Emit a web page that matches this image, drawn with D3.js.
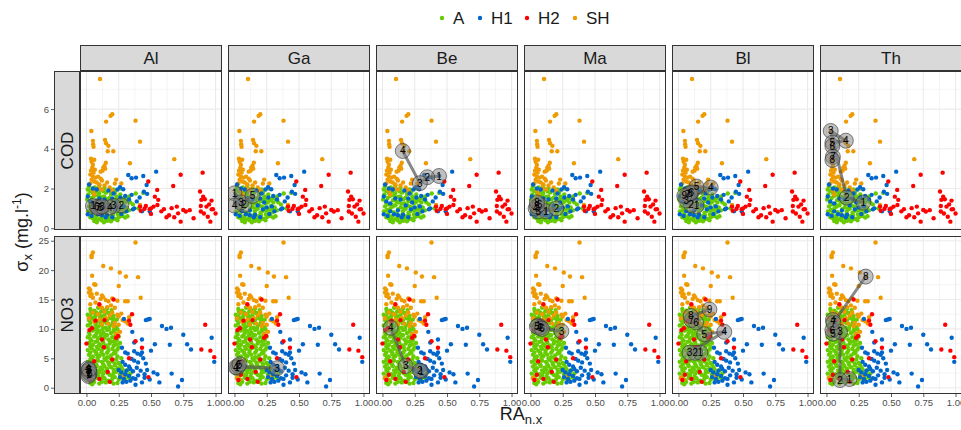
<!DOCTYPE html>
<html><head><meta charset="utf-8">
<script src="https://cdn.jsdelivr.net/npm/d3@7"></script>
<style>body{margin:0;background:#fff}svg{display:block;font-family:"Liberation Sans",Arial,sans-serif}</style>
</head><body><svg id="c" width="961" height="430"></svg>
<script>
const stations = ["Al","Ga","Be","Ma","Bl","Th"];
const variables = ["COD","NO3"];
const groups = ["A","H1","H2","SH"];
const groupColors = ["#66CC00","#0066CC","#FF0000","#EE9A00"];
const xTicks = [0,0.25,0.5,0.75,1];
const xTickLabels = ["0.00","0.25","0.50","0.75","1.00"];
const xMinor = [0.125,0.375,0.625,0.875];
const codTicks = [0,2,4,6];
const codMinor = [1,3,5,7];
const no3Ticks = [0,5,10,15,20,25];
const no3Minor = [2.5,7.5,12.5,17.5,22.5];

// COD background points [RA, sigma]
const cod_A = [[.02,2.1],[.03,1.88],[.015,1.7],[.04,1.52],[.028,1.3],[.02,1.1],[.035,.92],[.042,.7],[.05,.5],[.06,.36],
[.065,2.05],[.072,1.84],[.058,1.62],[.082,1.41],[.07,1.2],[.062,1.0],[.085,.81],[.074,.6],[.092,.44],[.08,.3],
[.1,2.15],[.112,1.95],[.098,1.76],[.12,1.57],[.108,1.34],[.1,1.16],[.122,.96],[.11,.74],[.13,.56],[.118,.4],
[.14,2.02],[.152,1.8],[.138,1.6],[.162,1.46],[.148,1.24],[.142,1.06],[.158,.86],[.15,.66],[.172,.5],[.16,.37],
[.182,1.92],[.19,1.72],[.178,1.52],[.2,1.36],[.192,1.16],[.18,.98],[.202,.78],[.188,.6],[.212,.46],
[.222,1.8],[.232,1.6],[.218,1.42],[.242,1.26],[.228,1.05],[.22,.88],[.244,.7],[.252,.56],
[.262,1.7],[.272,1.5],[.258,1.31],[.282,1.12],[.268,.94],[.292,.8],[.278,.62],[.3,.54],[.318,.6],
[.302,1.3],[.312,1.05],[.33,.9],[.292,1.5],[.322,1.46],[.382,1.75],[.44,1.78],[.36,1.2],[.402,1.0],
[.052,1.76],[.09,1.64],[.132,1.86],[.17,1.25],[.21,1.1],[.25,.9],[.045,1.2],[.08,1.1],[.125,1.3],[.165,1.0],
[.205,.65],[.24,1.45],[.28,1.4],[.03,.55],[.07,.45],[.112,.52],[.152,.42],[.19,.35],[.232,.48],[.272,.62],
[.01,1.95],[.005,1.45],[.012,.85],[.3,.95],[.34,1.3],[.33,1.6],[.262,2.0],[.21,1.95],[.24,.4],[.135,.3]];
const cod_H1 = [[.54,2.85],[.324,2.68],[.35,2.52],[.384,2.55],[.44,2.63],[.26,2.07],[.285,1.96],[.466,2.18],[.445,1.84],[.47,1.73],
[.35,1.68],[.33,1.45],[.49,.84],[.37,1.0],[.3,1.62],[.262,1.55],[.412,1.55],[.39,1.35],[.36,.95],[.43,.85],
[.02,2.2],[.01,1.6],[.03,1.35],[.05,2.0],[.06,1.25],[.01,.7],[.04,.62],[.09,.7],[.12,.65],[.16,.68],
[.18,1.15],[.2,1.5],[.14,1.45],[.22,.95],[.25,1.05],[.27,.72],[.1,1.5],[.08,1.95],[.17,1.9],[.23,1.3],
[.29,1.1],[.31,.85],[.12,.9],[.2,.55],[.06,.85],[.15,.55],[.21,1.75],[.24,1.95]];
const cod_H2 = [[.9,2.8],[.73,2.69],[.672,2.13],[.479,2.35],[.548,1.93],[.53,1.59],[.556,1.43],[.88,1.85],[.904,1.59],[.89,1.43],
[.917,1.46],[.969,1.39],[.886,1.12],[.93,1.09],[.98,.96],[.415,1.09],[.46,1.12],[.52,1.09],[.55,1.17],[.49,.96],
[.6,.96],[.66,1.01],[.7,1.09],[.64,.65],[.68,.55],[.73,.33],[.77,.84],[.8,.91],[.886,.84],[.91,.74],
[.94,.58],[.96,.33],[1.0,.74],[.97,.95],[.45,.98],[.42,.88],[.5,.72],[.58,.85],[.62,.55],[.71,.75],
[.75,.92],[.83,.5],[.95,1.2],[.5,1.0]];
const cod_SH = [[.105,7.52],[.2,5.74],[.187,5.66],[.152,5.37],[.38,5.42],[.038,4.9],[.415,4.36],[.05,4.4],[.052,4.23],[.055,4.1],
[.144,4.45],[.152,4.28],[.17,4.15],[.208,3.88],[.165,3.88],[.337,3.27],[.68,3.48],[.035,3.5],[.04,3.35],[.05,3.2],
[.06,3.45],[.045,3.05],[.035,2.9],[.055,2.8],[.065,2.95],[.13,3.05],[.14,3.15],[.15,3.3],[.145,3.0],[.125,2.9],
[.11,2.85],[.03,2.7],[.05,2.6],[.07,2.55],[.09,2.6],[.11,2.5],[.04,2.45],[.06,2.35],[.08,2.3],[.1,2.2],
[.12,2.4],[.03,2.25],[.14,2.15],[.16,2.3],[.22,2.25],[.27,2.25],[.23,2.45],[.415,1.17],[.2,1.9],[.18,2.05],
[.05,1.9],[.09,2.0],[.12,1.95],[.06,1.7]];

// NO3 background points [RA, sigma]
const no3_A = [[.03,13.4],[.06,13.1],[.09,13.6],[.13,13.2],[.16,13.5],
[.01,12.4],[.04,12.7],[.07,12.3],[.1,12.6],[.14,12.4],[.17,12.7],[.21,12.2],
[.02,11.5],[.05,11.7],[.08,11.3],[.11,11.6],[.13,11.2],[.16,11.5],[.19,11.8],[.22,11.4],
[.01,10.6],[.04,10.3],[.07,10.7],[.09,10.4],[.12,10.6],[.15,10.2],[.18,10.5],[.2,10.8],[.23,10.3],
[.02,9.4],[.05,9.7],[.08,9.3],[.1,9.6],[.13,9.4],[.16,9.8],[.19,9.3],[.21,9.6],[.24,9.9],
[.01,8.6],[.03,8.3],[.06,8.7],[.09,8.4],[.11,8.8],[.14,8.5],[.17,8.2],[.2,8.6],[.22,8.3],[.25,8.7],
[.02,7.6],[.05,7.3],[.07,7.8],[.1,7.4],[.13,7.7],[.15,7.2],[.18,7.5],[.21,7.8],[.23,7.4],[.26,7.6],
[.01,6.4],[.04,6.7],[.06,6.3],[.09,6.6],[.12,6.4],[.14,6.8],[.17,6.3],[.2,6.6],[.22,6.2],[.24,6.5],
[.02,5.6],[.05,5.3],[.08,5.7],[.1,5.4],[.13,5.6],[.16,5.2],[.19,5.5],[.21,5.8],[.24,5.3],
[.01,4.4],[.03,4.7],[.06,4.3],[.09,4.6],[.12,4.4],[.15,4.7],[.17,4.3],[.2,4.5],[.23,4.8],[.25,4.2],
[.02,3.6],[.05,3.3],[.08,3.7],[.11,3.4],[.14,3.6],[.16,3.2],[.19,3.5],[.22,3.8],[.24,3.3],[.27,3.5],
[.01,2.4],[.04,2.7],[.07,2.3],[.1,2.6],[.13,2.4],[.15,2.8],[.18,2.2],[.21,2.5],[.23,2.7],[.26,2.3],[.29,2.6],[.31,2.2],
[.02,1.6],[.05,1.3],[.08,1.7],[.11,1.4],[.14,1.6],[.17,1.2],[.2,1.5],[.22,1.8],[.25,1.4],[.28,1.6],[.3,1.3],
[.03,.8],[.06,1.0],[.1,.7],[.15,.9],[.19,1.0],[.24,.8],
[.32,3.0],[.3,2.0],[.34,2.4],[.33,1.7],[.28,3.1],[.26,4.0],[.27,5.0],[.25,6.9],[.035,12.0],[.115,12.1],[.185,12.0],[.065,10.0],[.145,9.0],[.035,5.0],
[.035,13.0],[.075,12.8],[.115,13.0],[.155,12.9],[.195,13.2],
[.025,12.0],[.065,11.9],[.105,12.1],[.145,11.9],[.205,11.7],
[.03,11.0],[.075,11.05],[.11,10.95],[.155,11.0],[.205,11.1],[.235,11.6],
[.035,10.1],[.08,9.95],[.125,10.0],[.175,9.95],[.215,10.0],
[.025,9.0],[.07,8.9],[.115,9.1],[.16,8.95],[.225,9.0],
[.04,8.0],[.085,7.95],[.125,8.05],[.185,7.9],[.235,8.1],
[.03,7.0],[.08,6.95],[.115,7.05],[.165,6.9],[.21,7.1],
[.03,6.0],[.075,5.95],[.115,6.0],[.16,5.95],[.225,5.9],
[.04,5.0],[.085,5.05],[.14,4.95],[.185,5.0],[.22,4.1],
[.035,4.0],[.075,3.95],[.13,4.0],[.175,3.9],[.21,3.05],
[.03,3.0],[.09,2.95],[.12,3.05],[.165,2.5],[.2,2.0],
[.035,2.0],[.09,2.1],[.125,1.9],[.155,1.1],[.045,.6],[.12,1.0],[.21,.7]];
const no3_H1 = [[.476,11.6],[.49,11.7],[.46,11.5],[.29,11.7],[.355,9.5],[.585,10.5],[.62,10.0],[.655,10.2],[.75,9.0],[.97,8.5],
[.43,8.2],[.53,7.4],[.646,7.3],[.78,7.4],[.81,6.5],[.99,4.4],[.37,7.7],[.37,6.2],[.395,5.8],[.42,5.6],
[.43,6.0],[.275,6.8],[.3,6.0],[.32,5.8],[.5,6.3],[.44,5.0],[.55,2.3],[.66,2.4],[.74,1.3],[.71,0.2],
[.565,0.9],[.49,1.4],[.45,1.7],[.34,3.2],[.36,2.8],[.31,2.9],[.3,2.3],[.33,2.0],[.36,1.6],[.38,1.5],
[.34,1.2],[.28,4.4],[.3,3.9],[.33,3.6],[.37,4.6],[.4,4.3],[.27,2.6],[.29,1.5],[.4,2.1],[.42,2.9],
[.45,2.3],[.39,3.4],[.46,4.1],[.35,4.9],[.25,3.0],[.26,1.8],[.31,1.0],[.47,3.0],[.52,2.6],[.43,0.9],
[.38,0.5],[.28,0.9]];
const no3_H2 = [[.21,15],[.1,14.2],[.353,12.5],[.33,11.4],[.34,10.7],[.23,8.5],[.245,8.8],[.135,6.9],[.33,5.0],[.48,1.8],
[.165,2.7],[.92,10.7],[.89,6.5],[.96,6.3],[.99,5.2],[.043,10.1],[.023,9.8],[0,7.5],[.07,11.4],[.14,11.5],
[.05,2.2],[.1,1.5],[.2,4.8],[.06,4.5],[.03,1.3],[.38,7.9],[.18,1.0],[.12,8.2],[.43,6.8]];
const no3_SH = [[.38,24.7],[.05,23.0],[.04,22.5],[.04,22.2],[.13,20.7],[.19,20.3],[.044,19.05],[.258,19.6],[.306,18.9],[.4,18.8],
[.06,17.6],[.07,17.5],[.25,17.3],[.02,16.9],[.03,16.6],[.02,16.2],[.04,15.9],[.03,15.6],[.05,15.3],[.08,16.0],
[.12,15.7],[.13,15.4],[.11,15.1],[.15,14.9],[.17,14.7],[.2,15.2],[.24,14.8],[.42,15.3],[.3,14.7],[.32,14.7],
[.03,14.2],[.07,14.5],[.1,13.9],[.12,13.6],[.16,13.7],[.19,14.0],[.22,13.6],[.22,11.0],[.25,10.7],[.28,11.5],
[.3,11.3],[.32,10.9],[.33,12.0],[.24,12.4],[.25,12.1],[.27,12.6],[.29,1.2],[.28,1.9],[.02,1.7],[.04,1.4],
[.05,12.8],[.09,12.5],[.14,12.9],[.18,12.3],[.2,12.8],[.15,11.8],[.1,11.6],[.06,11.2],[.02,11.8],[.17,10.9],
[.21,10.5],[.12,10.8],[.26,9.5],[.23,9.2]];

// Trajectories per station [RA, sigma, label]
const traj_COD_Al = [[.05,1.12,"1"],[.27,1.15,"2"],[.21,1.12,"3"],[.18,1.05,"4"],[.11,1.05,"5"],[.08,1.08,"6"],[.09,1.02,"7"],[.12,1.1,"8"]];
const traj_COD_Ga = [[.0,1.76,"1"],[.074,1.17,"2"],[.05,1.3,"3"],[.0,1.14,"4"],[.14,1.63,"5"]];
const traj_COD_Be = [[.438,2.63,"1"],[.347,2.57,"2"],[.29,2.27,"3"],[.157,3.89,"4"]];
const traj_COD_Ma = [[.12,.85,"1"],[.2,1.0,"2"],[.06,.85,"3"],[.04,1.0,"4"],[.05,1.1,"5"],[.07,1.2,"6"],[.05,1.3,"8"]];
const traj_COD_Bl = [[.14,1.12,"1"],[.097,1.17,"2"],[.06,1.4,"3"],[.25,2.05,"4"],[.14,2.1,"5"],[.1,1.8,"6"],[.07,1.7,"7"],[.09,1.76,"8"],[.045,1.63,"9"]];
const traj_COD_Th = [[.285,1.29,"1"],[.157,1.54,"2"],[.033,4.9,"3"],[.15,4.41,"4"],[.046,4.31,"5"],[.046,4.14,"6"],[.05,3.6,"7"],[.046,3.44,"8"]];
const traj_NO3_Al = [[.02,2.2,"1"],[.02,2.6,"2"],[.015,3.0,"3"],[.01,3.3,"4"],[.02,2.9,"5"],[.025,2.4,"6"],[.015,2.0,"7"],[.02,3.1,"8"]];
const traj_NO3_Ga = [[.02,3.4,"1"],[.03,3.7,"2"],[.33,3.3,"3"],[.01,3.5,"4"],[.04,4.0,"5"]];
const traj_NO3_Be = [[.3,2.8,"1"],[.29,2.9,"2"],[.18,3.7,"3"],[.064,10.2,"4"]];
const traj_NO3_Ma = [[.06,10.6,"1"],[.08,10.3,"2"],[.24,9.6,"3"],[.07,10.2,"4"],[.05,10.4,"5"],[.09,10.0,"6"]];
const traj_NO3_Bl = [[.17,5.95,"1"],[.13,5.95,"2"],[.085,5.95,"3"],[.355,9.5,"4"],[.2,9.1,"5"],[.136,11.1,"6"],[.1,11.5,"7"],[.095,12.2,"8"],[.24,13.3,"9"]];
const traj_NO3_Th = [[.177,1.48,"1"],[.105,1.3,"2"],[.105,9.5,"3"],[.05,11.5,"4"],[.05,9.2,"5"],[.046,9.8,"6"],[.054,11.05,"7"],[.304,18.9,"8"]];

const rowSpecs = [
  {name:"COD", top:71, bottom:230, domain:[-0.09,7.92], ticks:codTicks, minor:codMinor,
   series:[cod_A,cod_H1,cod_H2,cod_SH],
   traj:[traj_COD_Al,traj_COD_Ga,traj_COD_Be,traj_COD_Ma,traj_COD_Bl,traj_COD_Th]},
  {name:"NO3", top:236, bottom:394, domain:[-1.07,25.8], ticks:no3Ticks, minor:no3Minor,
   series:[no3_A,no3_H1,no3_H2,no3_SH],
   traj:[traj_NO3_Al,traj_NO3_Ga,traj_NO3_Be,traj_NO3_Ma,traj_NO3_Bl,traj_NO3_Th]}
];
const drawOrder = [0,3,1,2];

const svg = d3.select("#c");
const left0 = 80, colW = 142, colStep = 148;
const textCol = "#1a1a1a", tickCol = "#4d4d4d", border = "#333333";

const legX = [442,480,527,575];
const leg = svg.append("g");
groups.forEach((g,i)=>{
  leg.append("circle").attr("cx",legX[i]).attr("cy",18).attr("r",2.2).attr("fill",groupColors[i]);
  leg.append("text").attr("x",legX[i]+11).attr("y",24).attr("font-size",17).attr("fill",textCol).text(g);
});

stations.forEach((s,ci)=>{
  const x0 = left0 + ci*colStep;
  svg.append("rect").attr("x",x0+0.5).attr("y",45.5).attr("width",colW-1).attr("height",25)
     .attr("fill","#d9d9d9").attr("stroke",border).attr("stroke-width",1);
  svg.append("text").attr("x",x0+colW/2).attr("y",64).attr("text-anchor","middle")
     .attr("font-size",17).attr("fill",textCol).text(s);
});

rowSpecs.forEach((row,ri)=>{
  const y = d3.scaleLinear().domain(row.domain).range([row.bottom,row.top]);
  svg.append("rect").attr("x",54.5).attr("y",row.top+0.5).attr("width",25).attr("height",row.bottom-row.top-1)
     .attr("fill","#d9d9d9").attr("stroke",border).attr("stroke-width",1);
  svg.append("text").attr("transform",`translate(73,${(row.top+row.bottom)/2}) rotate(-90)`)
     .attr("text-anchor","middle").attr("font-size",17).attr("fill",textCol).text(row.name);
  const yAxis = d3.axisLeft(y).tickValues(row.ticks).tickSize(3).tickPadding(2).tickFormat(d3.format("d"));
  const ga = svg.append("g").attr("transform","translate(54,0)").call(yAxis);
  ga.select(".domain").remove();
  ga.selectAll(".tick line").attr("stroke","#333").attr("stroke-width",0.8);
  ga.selectAll(".tick text").attr("fill",tickCol).attr("font-size",9.5).attr("font-family","Liberation Sans, Arial, sans-serif");

  stations.forEach((s,ci)=>{
    const x0 = left0 + ci*colStep;
    const x = d3.scaleLinear().domain([-0.05,1.05]).range([x0,x0+colW]);
    const p = svg.append("g");
    p.append("rect").attr("x",x0).attr("y",row.top).attr("width",colW).attr("height",row.bottom-row.top).attr("fill","#fff");
    const clipId = `clip${ri}_${ci}`;
    p.append("clipPath").attr("id",clipId).append("rect").attr("x",x0).attr("y",row.top).attr("width",colW).attr("height",row.bottom-row.top);
    p.selectAll(".vm").data(xMinor).enter().append("line").attr("x1",d=>x(d)).attr("x2",d=>x(d))
      .attr("y1",row.top).attr("y2",row.bottom).attr("stroke","#ebebeb").attr("stroke-width",0.55);
    p.selectAll(".hm").data(row.minor).enter().append("line").attr("y1",d=>y(d)).attr("y2",d=>y(d))
      .attr("x1",x0).attr("x2",x0+colW).attr("stroke","#ebebeb").attr("stroke-width",0.55);
    p.selectAll(".vM").data(xTicks).enter().append("line").attr("x1",d=>x(d)).attr("x2",d=>x(d))
      .attr("y1",row.top).attr("y2",row.bottom).attr("stroke","#ebebeb").attr("stroke-width",1.1);
    p.selectAll(".hM").data(row.ticks).enter().append("line").attr("y1",d=>y(d)).attr("y2",d=>y(d))
      .attr("x1",x0).attr("x2",x0+colW).attr("stroke","#ebebeb").attr("stroke-width",1.1);
    const pts = p.append("g").attr("clip-path",`url(#${clipId})`);
    drawOrder.forEach(gi=>{
      pts.selectAll(null).data(row.series[gi]).enter().append("circle")
        .attr("cx",d=>x(d[0])).attr("cy",d=>y(d[1])).attr("r",2.2).attr("fill",groupColors[gi]);
    });
    const tr = row.traj[ci];
    const line = d3.line().x(d=>x(d[0])).y(d=>y(d[1]));
    pts.append("path").attr("d",line(tr)).attr("fill","none").attr("stroke","#555").attr("stroke-opacity",0.7)
      .attr("stroke-width",3).attr("stroke-linecap","round");
    pts.selectAll(null).data(tr).enter().append("circle").attr("cx",d=>x(d[0])).attr("cy",d=>y(d[1]))
      .attr("r",7.5).attr("fill","#808080").attr("fill-opacity",0.5).attr("stroke","#333").attr("stroke-opacity",0.6).attr("stroke-width",1);
    pts.selectAll(null).data(tr).enter().append("text").attr("x",d=>x(d[0])).attr("y",d=>y(d[1])+3.5)
      .attr("text-anchor","middle").attr("font-size",10).attr("fill","#000").text(d=>d[2]);
    p.append("rect").attr("x",x0+0.5).attr("y",row.top+0.5).attr("width",colW-1).attr("height",row.bottom-row.top-1)
      .attr("fill","none").attr("stroke",border).attr("stroke-width",1);
    if (ri===rowSpecs.length-1){
      const xAxis = d3.axisBottom(x).tickValues(xTicks).tickSize(3).tickPadding(2).tickFormat((d,i)=>xTickLabels[i]);
      const gx = svg.append("g").attr("transform",`translate(0,${row.bottom})`).call(xAxis);
      gx.select(".domain").remove();
      gx.selectAll(".tick line").attr("stroke","#333").attr("stroke-width",0.8);
      gx.selectAll(".tick text").attr("fill",tickCol).attr("font-size",9.5).attr("font-family","Liberation Sans, Arial, sans-serif");
    }
  });
});

const yt = svg.append("text").attr("transform","translate(28,232) rotate(-90)").attr("text-anchor","middle")
  .attr("font-size",18).attr("fill",textCol);
yt.append("tspan").text("σ");
yt.append("tspan").attr("font-size",13).attr("dy",4).text("x");
yt.append("tspan").attr("dy",-4).text(" (mg.l");
yt.append("tspan").attr("font-size",12).attr("dy",-7).text("-1");
yt.append("tspan").attr("dy",7).text(")");
const xt = svg.append("text").attr("x",521).attr("y",420).attr("text-anchor","middle").attr("font-size",18).attr("fill",textCol);
xt.append("tspan").text("RA");
xt.append("tspan").attr("font-size",13).attr("dy",4).text("n.x");
</script></body></html>
